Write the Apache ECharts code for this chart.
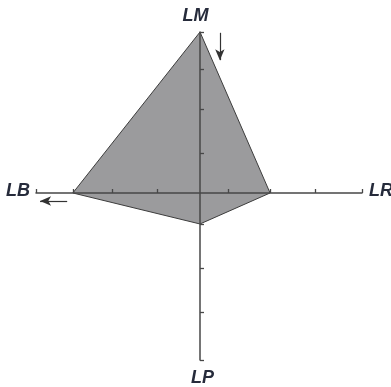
<!DOCTYPE html>
<html><head><meta charset="utf-8">
<script src="https://cdn.jsdelivr.net/npm/echarts@6/dist/echarts.min.js"></script>
<style>html,body{margin:0;padding:0;background:#fff}#c{width:391px;height:387px}</style>
</head><body><div id="c"></div>
<script>
// Axis names (top, right, bottom, left)
const axisNames = ['LM', 'LR', 'LP', 'LB'];
// Distance of each polygon vertex from the centre along its axis
const vertexValues = [4, 1.73, 0.77, 3.14];
// Tick positions along each axis (axis units)
const xTicks = [-4.05, -3.14, -2.17, -1.06, 0.69, 1.73, 2.84, 4];
const yTicks = [-4.15, -2.96, -1.86, -0.77, 0.99, 2.09, 3.08, 4];
// Direction arrows [from, to]
const arrowDown = [[0.49, 3.98], [0.49, 3.3]];
const arrowLeft = [[-3.28, -0.2], [-3.95, -0.2]];

const dirs = [[0, 1], [1, 0], [0, -1], [-1, 0]];
const polygon = vertexValues.map((v, i) => [dirs[i][0] * v, dirs[i][1] * v]);

const axisCol = '#474747';
const labelStyle = {fontFamily: 'Liberation Sans', fontWeight: 'bold', fontStyle: 'italic', fontSize: 18, fill: '#262b3b'};

const chart = echarts.init(document.getElementById('c'), null, {renderer: 'canvas'});
chart.setOption({
  animation: false,
  grid: {left: 36, right: 29, top: 32, bottom: 27},
  xAxis: {
    type: 'value', min: -4.05, max: 4, z: 5,
    axisLine: {onZero: true, lineStyle: {color: axisCol, width: 1.5}},
    axisTick: {show: true, inside: true, length: 4, customValues: xTicks, lineStyle: {color: axisCol, width: 1.3}},
    axisLabel: {show: false},
    splitLine: {show: false}
  },
  yAxis: {
    type: 'value', min: -4.15, max: 4, z: 5,
    axisLine: {onZero: true, lineStyle: {color: axisCol, width: 1.5}},
    axisTick: {show: true, inside: true, length: 4, customValues: yTicks, lineStyle: {color: axisCol, width: 1.3}},
    axisLabel: {show: false},
    splitLine: {show: false}
  },
  series: [{
    type: 'custom',
    z: 1,
    data: [0],
    renderItem: function (params, api) {
      const pts = polygon.map(p => api.coord(p));
      return {type: 'polygon', shape: {points: pts},
        style: {fill: '#9b9b9d', stroke: '#3c3c3c', lineWidth: 1}};
    }
  }, {
    type: 'line', data: [], silent: true,
    markLine: {
      silent: true, animation: false,
      symbol: ['none', 'arrow'], symbolSize: [7, 11],
      label: {show: false},
      lineStyle: {color: '#333', width: 1.2, type: 'solid'},
      data: [
        [{coord: arrowDown[0]}, {coord: arrowDown[1]}],
        [{coord: arrowLeft[0]}, {coord: arrowLeft[1]}]
      ]
    }
  }],
  graphic: [
    {type: 'text', left: 'center', top: 7, style: Object.assign({text: axisNames[0]}, labelStyle)},
    {type: 'text', left: 369, top: 182, style: Object.assign({text: axisNames[1]}, labelStyle)},
    {type: 'text', left: 191, top: 369, style: Object.assign({text: axisNames[2]}, labelStyle)},
    {type: 'text', left: 6, top: 182, style: Object.assign({text: axisNames[3]}, labelStyle)}
  ]
});
</script></body></html>
